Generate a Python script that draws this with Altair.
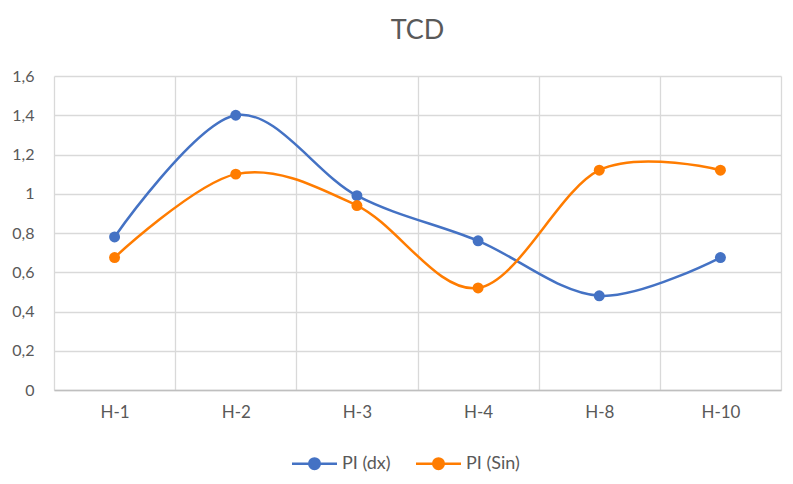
import altair as alt
import pandas as pd

categories = ["H-1", "H-2", "H-3", "H-4", "H-8", "H-10"]
pi_dx = [0.78, 1.40, 0.99, 0.76, 0.48, 0.675]
pi_sin = [0.675, 1.10, 0.94, 0.52, 1.12, 1.12]
series_names = ["PI (dx)", "PI (Sin)"]
colors = ["#4472C4", "#FF7C00"]
y_ticks = [0, 0.2, 0.4, 0.6, 0.8, 1.0, 1.2, 1.4, 1.6]

rows = []
for c, a, b in zip(categories, pi_dx, pi_sin):
    rows.append({"cat": c, "value": a, "series": series_names[0]})
    rows.append({"cat": c, "value": b, "series": series_names[1]})
df = pd.DataFrame(rows)

FONT = "Lato"
GRAY = "#595959"

x_enc = alt.X(
    "cat:N",
    sort=categories,
    bandPosition=0.5,
    scale=alt.Scale(type="band", paddingInner=0, paddingOuter=0),
    axis=alt.Axis(
        title=None, grid=True, tickBand="extent", ticks=False,
        labelAngle=0, labelPadding=14, labelFontSize=17, labelColor=GRAY,
        labelFont=FONT, domainColor="#BFBFBF", domainWidth=1.5,
        gridColor="#D9D9D9", gridWidth=1.3,
    ),
)
y_enc = alt.Y(
    "value:Q",
    scale=alt.Scale(domain=[0, 1.6], nice=False, zero=True),
    axis=alt.Axis(
        title=None, values=y_ticks, domain=False, ticks=False,
        labelExpr="replace(format(datum.value, '.1~f'), '.', ',')",
        labelPadding=20, labelFontSize=16, labelColor=GRAY, labelFont=FONT,
        gridColor="#D9D9D9", gridWidth=1.3,
    ),
)
color_enc = alt.Color(
    "series:N",
    sort=series_names,
    scale=alt.Scale(domain=series_names, range=colors),
    legend=alt.Legend(
        title=None, orient="none", direction="horizontal",
        legendX=244, legendY=371,
        symbolType="M -1.5 0 L -0.35 0 M 0.35 0 L 1.5 0 M 0.35 0 A 0.35 0.35 0 1 1 -0.35 0 A 0.35 0.35 0 1 1 0.35 0 Z",
        symbolSize=900, symbolStrokeWidth=2.5,
        labelFontSize=18, labelColor=GRAY, labelFont=FONT,
        columnPadding=20, labelOffset=11,
    ),
)

base = alt.Chart(df).encode(x=x_enc, y=y_enc, color=color_enc)
lines = base.mark_line(interpolate="cardinal", strokeWidth=2.5)
points = base.mark_point(filled=True, size=120, opacity=1)

chart = (
    alt.layer(lines, points)
    .properties(
        width=727, height=314,
        title=alt.TitleParams("TCD", fontSize=27, color=GRAY, font=FONT,
                              fontWeight="normal", offset=23, anchor="middle"),
        autosize=alt.AutoSizeParams(type="none"),
        padding={"left": 46, "top": 68, "right": 4, "bottom": 86},
    )
    .configure_view(stroke=None)
)

chart.save("out.html", embed_options={"renderer": "svg", "actions": False})
